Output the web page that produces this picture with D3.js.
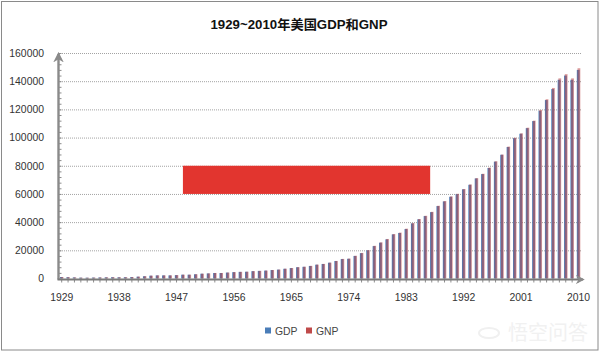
<!DOCTYPE html>
<html lang="en">
<head>
<meta charset="utf-8">
<title>1929~2010年美国GDP和GNP</title>
<script src="https://d3js.org/d3.v7.min.js"></script>
<style>
  body, html { margin: 0; background: #fff; overflow: hidden; }
  svg { display: block; font-family: "Liberation Sans", "Noto Sans CJK SC", sans-serif; }
  .axis text { font-size: 10.4px; fill: #333; }
  .grid line { stroke: #a3a3a3; stroke-dasharray: 1 1; }
</style>
</head>
<body>
<div id="chart"></div>
<script>
// values
const years = d3.range(1929, 2011);
const gdp = [1040, 920, 770, 590, 560, 650, 730, 830, 900, 850, 900, 1000, 1300, 1600, 2000, 2200, 2200, 2200, 2400, 2700, 2700,
  3000, 3400, 3600, 3900, 3900, 4200, 4500, 4700, 4800, 5200, 5400, 5600, 6000, 6300, 6900, 7400, 8000, 8300, 8900, 9800,
  10300, 11200, 12400, 13800, 14000, 16000, 18000, 20000, 23000, 25400, 27800, 31300, 32300, 35100, 39100, 42000, 44300, 47100, 51400, 54700,
  58000, 59900, 63300, 66500, 71000, 74100, 78400, 82900, 87800, 93300, 99600, 102700, 106700, 111700, 119000, 126600, 134400, 141000, 144000, 141000, 148000];
const gnp = [1045, 925, 775, 592, 562, 652, 733, 834, 904, 854, 904, 1004, 1305, 1604, 2004, 2204, 2204, 2205, 2410, 2715, 2712,
  3015, 3415, 3615, 3915, 3920, 4220, 4520, 4725, 4825, 5225, 5430, 5630, 6030, 6340, 6940, 7440, 8040, 8350, 8950, 9850,
  10360, 11260, 12460, 13900, 14120, 16120, 18150, 20150, 23200, 25650, 28050, 31550, 32550, 35350, 39350, 42200, 44500, 47300, 51600, 54950,
  58250, 60100, 63500, 66700, 71200, 74300, 78700, 83200, 87900, 93600, 99900, 103000, 107000, 112000, 119600, 127200, 135200, 142000, 145000, 142000, 149200];
const yTicks = [0, 20000, 40000, 60000, 80000, 100000, 120000, 140000, 160000];
const yMinorTicks = d3.range(0, 160001, 4000);
const xLabels = [1929, 1938, 1947, 1956, 1965, 1974, 1983, 1992, 2001, 2010];
const seriesNames = ["GDP", "GNP"];
const seriesColors = ["#4a7db8", "#bf4a4a"];
const maskYears = [1948, 1986.75];
const maskValues = [60000, 80000];

const width = 600;
const height = 352;

const svg = d3.select("#chart").append("svg")
    .attr("width", width)
    .attr("height", height);

// outer frame
svg.append("rect")
    .attr("x", 1.5).attr("y", 1.5)
    .attr("width", 596.5).attr("height", 348.5)
    .attr("fill", "none")
    .attr("stroke", "#8a8a8a")
    .attr("stroke-width", 1);

const x = d3.scaleBand().domain(years).range([58.5, 581.7]);
const y = d3.scaleLinear().domain([0, 160000]).range([278.5, 53]);

// dotted grid
svg.append("g").attr("class", "grid")
  .selectAll("line")
  .data(yTicks.slice(1))
  .join("line")
    .attr("x1", 58).attr("x2", 581)
    .attr("y1", d => y(d) + 0.5).attr("y2", d => y(d) + 0.5);

// bars, the two series overlap so the middle goes grey-purple
const bars = svg.append("g").style("filter", "blur(0.35px)");
bars.selectAll(".gdp")
  .data(gdp)
  .join("rect")
    .attr("class", "gdp")
    .attr("x", (d, i) => x(years[i]) + 1.5)
    .attr("y", d => y(d))
    .attr("width", 2.8)
    .attr("height", d => y(0) - y(d))
    .attr("fill", seriesColors[0]);
bars.selectAll(".gnp")
  .data(gnp)
  .join("rect")
    .attr("class", "gnp")
    .attr("x", (d, i) => x(years[i]) + 2.2)
    .attr("y", d => y(d))
    .attr("width", 2.8)
    .attr("height", d => y(0) - y(d))
    .attr("fill", seriesColors[1])
    .attr("opacity", 0.55);

// red block over the middle of the chart
const xYear = d3.scaleLinear()
    .domain([1929, 2010])
    .range([x(1929) + x.bandwidth() / 2, x(2010) + x.bandwidth() / 2]);
svg.append("rect")
    .attr("x", xYear(maskYears[0]))
    .attr("y", y(maskValues[1]))
    .attr("width", xYear(maskYears[1]) - xYear(maskYears[0]))
    .attr("height", y(maskValues[0]) - y(maskValues[1]))
    .attr("fill", "#e2352f");

// y axis: minor ticks on the right of the line
const yMinor = svg.append("g")
    .attr("transform", "translate(58.5,0)")
    .call(d3.axisRight(y).tickValues(yMinorTicks).tickSize(3).tickFormat(""));
yMinor.select(".domain").remove();
yMinor.selectAll("line").attr("stroke", "#8c8c8c");

const yAxis = svg.append("g")
    .attr("class", "axis")
    .attr("transform", "translate(44,0)")
    .call(d3.axisLeft(y).tickValues(yTicks).tickSize(0).tickPadding(0).tickFormat(d => d));
yAxis.select(".domain").remove();

// x axis: a tick every year, a label every nine
const xAxis = svg.append("g")
    .attr("class", "axis")
    .attr("transform", `translate(0,${y(0)})`)
    .call(d3.axisBottom(x).tickSize(4).tickPadding(11)
      .tickFormat(d => xLabels.includes(d) ? d : ""));
xAxis.select(".domain").remove();
xAxis.selectAll("line").attr("stroke", "#8c8c8c");

// thick grey axis lines with arrow heads
const arrow = svg.append("defs").append("marker")
    .attr("id", "arrow")
    .attr("viewBox", "0 0 10 10")
    .attr("refX", 8).attr("refY", 5)
    .attr("markerWidth", 4.4).attr("markerHeight", 4.4)
    .attr("markerUnits", "strokeWidth")
    .attr("orient", "auto");
arrow.append("path").attr("d", "M0,0L10,5L0,10L3,5Z").attr("fill", "#8a8a8a");

svg.append("line")
    .attr("x1", 58.5).attr("x2", 58.5)
    .attr("y1", y(0) + 1).attr("y2", y(160000) + 1)
    .attr("stroke", "#8a8a8a").attr("stroke-width", 2.4)
    .attr("marker-end", "url(#arrow)");
svg.append("line")
    .attr("x1", 57.5).attr("x2", 583)
    .attr("y1", y(0) + 1).attr("y2", y(0) + 1)
    .attr("stroke", "#7a7a7a").attr("stroke-width", 2)
    .attr("marker-end", "url(#arrow)");

// title
svg.append("text")
    .attr("x", 299).attr("y", 29)
    .attr("text-anchor", "middle")
    .attr("font-size", 13)
    .attr("font-weight", "bold")
    .attr("textLength", 177)
    .attr("lengthAdjust", "spacingAndGlyphs")
    .attr("fill", "#111")
    .text("1929~2010年美国GDP和GNP");

// legend
const legend = svg.append("g").selectAll("g")
  .data(seriesNames)
  .join("g")
    .attr("transform", (d, i) => `translate(${265 + i * 41},327.5)`);
legend.append("rect")
    .attr("width", 6).attr("height", 6)
    .attr("fill", (d, i) => seriesColors[i]);
legend.append("text")
    .attr("x", 10).attr("y", 7)
    .attr("font-size", 10.4)
    .attr("fill", "#444")
    .text(d => d);

// faint site watermark
const mark = svg.append("g").attr("fill", "#f1f1f1");
mark.append("ellipse")
    .attr("cx", 489).attr("cy", 333).attr("rx", 10).attr("ry", 5)
    .attr("fill", "none").attr("stroke", "#f0f0f0").attr("stroke-width", 2);
mark.append("text")
    .attr("x", 508).attr("y", 340)
    .attr("font-size", 20)
    .attr("textLength", 80)
    .text("悟空问答");
</script>
</body>
</html>
